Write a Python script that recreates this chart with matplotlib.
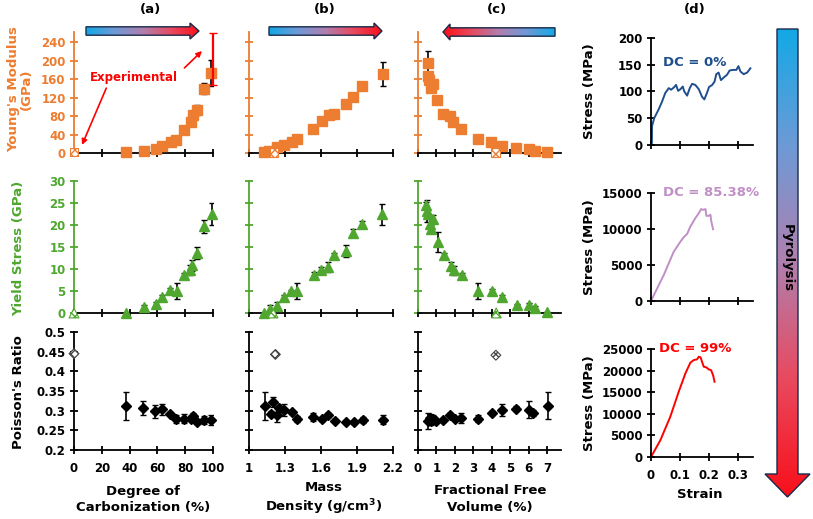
import matplotlib
matplotlib.use("Agg")
import matplotlib.pyplot as plt
import numpy as np
from matplotlib.colors import LinearSegmentedColormap
from matplotlib.patches import Polygon

plt.rcParams['font.family'] = ['DejaVu Sans']
plt.rcParams['font.weight'] = 'bold'
plt.rcParams['mathtext.default'] = 'bf'

ORANGE = '#ED7D31'
GREEN = '#4FA72F'

# ---- data: Young's modulus (GPa)
dc_E = [37.4, 50.4, 59.0, 63.5, 70.0, 73.4, 79.0, 84.0, 85.8, 88.3, 93.5, 98.6]
E_a = [2, 4, 8, 15, 24, 28, 50, 68, 82, 93, 139, 174]
E_a_err = [0, 0, 0, 0, 0, 0, 0, 3, 4, 11, 12, 28]

rho_E = [1.122, 1.165, 1.237, 1.293, 1.356, 1.399, 1.536, 1.607, 1.664, 1.707, 1.812, 1.869, 1.943, 2.114]
E_b = [3, 5, 12, 17, 24, 30, 51, 70, 82, 84, 107, 122, 145, 171]
E_b_err = [0, 0, 0, 0, 0, 0, 0, 0, 0, 0, 0, 0, 2, 26]

ffv_E = [0.52, 0.52, 0.60, 0.79, 0.68, 1.01, 1.37, 1.74, 1.92, 2.33, 3.26, 3.98, 4.54, 5.33, 6.04, 6.32, 7.0]
E_c = [194, 166, 158, 149, 140, 115, 84, 81, 68, 51, 30, 23, 16, 10, 9, 4, 1.5]
E_c_err = [26, 10, 0, 0, 6, 5, 0, 0, 0, 0, 0, 0, 0, 0, 0, 0, 0]

# experimental values (hatched markers, red bar)
exp_E_x = [0, 1.208, 4.21]
exp_E = [2, 1, 1]
exp_bar_dc = 99.8
exp_bar_E = 203
exp_bar_err = 56

# ---- data: yield stress (GPa)
dc_Y = [37.1, 50.7, 59.0, 63.3, 69.3, 73.8, 79.3, 83.3, 85.2, 88.3, 93.6, 99.0]
Y_a = [0, 1.4, 2.0, 3.7, 5.2, 5.0, 8.6, 9.8, 10.8, 13.6, 19.7, 22.6]
Y_a_err = [0, 0.5, 0.4, 0.3, 0.4, 1.8, 0.6, 1.1, 1.2, 1.3, 1.5, 2.5]

rho_Y = [1.124, 1.174, 1.23, 1.295, 1.353, 1.40, 1.54, 1.60, 1.66, 1.71, 1.81, 1.87, 1.94, 2.11]
Y_b = [0, 1.0, 1.7, 3.6, 4.9, 5.0, 8.7, 9.7, 10.5, 13.1, 14.1, 18.2, 20.2, 22.4]
Y_b_err = [0, 0.8, 0.8, 0.4, 0.4, 1.8, 0.6, 0.7, 1.2, 0.6, 1.4, 1.0, 0.8, 2.3]

ffv_Y = [0.45, 0.47, 0.55, 0.84, 0.65, 0.69, 1.06, 1.42, 1.78, 1.96, 2.37, 3.27, 4.0, 4.56, 5.35, 6.0, 6.33, 6.97]
Y_c = [24.5, 23.2, 22.5, 21.4, 20.3, 19.2, 16.1, 13.1, 10.7, 9.7, 8.6, 5.0, 5.0, 3.7, 1.8, 1.8, 1.1, 0.2]
Y_c_err = [0.8, 2.5, 1.0, 0.9, 1.0, 0.8, 2.2, 0.6, 0.9, 1.0, 0.5, 1.8, 0.5, 0.5, 0.3, 0.5, 0.4, 0]

exp_Y_x = [0, 1.20, 4.24]
exp_Y = [0, 0, 0]

# ---- data: Poisson's ratio
dc_P = [37.2, 49.8, 58.4, 63.0, 69.0, 73.4, 79.2, 84.0, 85.8, 88.3, 93.5, 98.8]
P_a = [0.312, 0.306, 0.298, 0.304, 0.292, 0.278, 0.280, 0.279, 0.287, 0.271, 0.276, 0.276]
P_a_err = [0.035, 0.018, 0.016, 0.014, 0.004, 0.010, 0.012, 0.006, 0.006, 0.004, 0.010, 0.012]

rho_P = [1.13, 1.18, 1.196, 1.23, 1.246, 1.293, 1.357, 1.398, 1.536, 1.606, 1.66, 1.716, 1.807, 1.874, 1.946, 2.117]
P_b = [0.3125, 0.292, 0.3225, 0.29, 0.307, 0.302, 0.296, 0.279, 0.283, 0.279, 0.289, 0.275, 0.27, 0.27, 0.277, 0.277]
P_b_err = [0.035, 0.006, 0.012, 0.02, 0.004, 0.015, 0.004, 0.008, 0.010, 0.004, 0.004, 0.004, 0.004, 0.004, 0.008, 0.012]

ffv_P = [0.54, 0.63, 0.72, 0.81, 0.99, 1.35, 1.76, 1.98, 2.34, 3.23, 4.0, 4.54, 5.3, 6.01, 6.23, 7.07]
P_c = [0.273, 0.282, 0.273, 0.28, 0.273, 0.276, 0.29, 0.28, 0.2815, 0.28, 0.294, 0.3025, 0.305, 0.3025, 0.294, 0.313]
P_c_err = [0.02, 0.01, 0.01, 0.008, 0.004, 0.004, 0.004, 0.004, 0.012, 0.010, 0.004, 0.015, 0.006, 0.022, 0.008, 0.034]

exp_P_x = [0, 1.22, 4.22]
exp_P = [0.445, 0.443, 0.441]

# ---- data: stress-strain curves (d)
strain0 = [0.003, 0.0034, 0.011, 0.026, 0.038, 0.049, 0.061, 0.069, 0.078, 0.086, 0.093, 0.101, 0.109,
           0.114, 0.124, 0.133, 0.141, 0.152, 0.164, 0.175, 0.183, 0.192, 0.199, 0.21, 0.218, 0.224,
           0.232, 0.24, 0.25, 0.261, 0.27, 0.282, 0.293, 0.3, 0.307, 0.318, 0.33, 0.341]
stress0 = [4, 35, 50, 66, 81, 97, 106, 103, 107, 112, 101, 104, 109, 100, 92, 106, 114, 112, 104, 90,
           85, 97, 108, 112, 118, 132, 135, 121, 126, 131, 139, 140, 140, 147, 137, 132, 135, 143]

strain85 = [0, 0.0435, 0.078, 0.101, 0.112, 0.124, 0.135, 0.152, 0.164, 0.172, 0.179, 0.187, 0.19,
            0.198, 0.204, 0.207, 0.213]
stress85 = [0, 3590, 6850, 8250, 8850, 9320, 10340, 11500, 12200, 12760, 12670, 12760, 11830,
            11830, 11970, 11040, 9970]

strain99 = [0, 0.032, 0.066, 0.095, 0.118, 0.135, 0.147, 0.158, 0.164, 0.17, 0.175, 0.181, 0.19,
            0.198, 0.206, 0.213, 0.218]
stress99 = [0, 3870, 9290, 15090, 19350, 21830, 22450, 22600, 23220, 23070, 22060, 20900, 20740,
            20280, 20120, 18960, 17420]

W, H = 813, 519
LAB = 9.5
TICK = 8.5
fig = plt.figure(figsize=(W / 100, H / 100), dpi=100)


def px_axes(x0, y0, x1, y1):
    return fig.add_axes([x0 / W, 1 - y1 / H, (x1 - x0) / W, (y1 - y0) / H])


def style(ax, ycol='black'):
    ax.spines['top'].set_visible(False)
    ax.spines['right'].set_visible(False)
    ax.spines['left'].set_color(ycol)
    ax.spines['left'].set_linewidth(1.3)
    ax.spines['bottom'].set_linewidth(1.3)
    ax.patch.set_alpha(0)
    ax.tick_params(axis='both', direction='inout', length=6, width=1.3, labelsize=TICK, pad=3)
    ax.tick_params(axis='x', pad=5.5)
    ax.tick_params(axis='y', colors=ycol)
    for lab in ax.get_xticklabels() + ax.get_yticklabels():
        lab.set_fontweight('bold')


cols = [(74, 213, (0, 100), [0, 20, 40, 60, 80, 100], ['0', '20', '40', '60', '80', '100']),
        (249, 393, (1, 2.2), [1, 1.3, 1.6, 1.9, 2.2], ['1', '1.3', '1.6', '1.9', '2.2']),
        (418, 561, (0, 7.75), [0, 1, 2, 3, 4, 5, 6, 7], ['0', '1', '2', '3', '4', '5', '6', '7'])]
rows = [(32, 153), (181, 313), (332, 450)]

E_sets = [(dc_E, E_a, E_a_err), (rho_E, E_b, E_b_err), (ffv_E, E_c, E_c_err)]
Y_sets = [(dc_Y, Y_a, Y_a_err), (rho_Y, Y_b, Y_b_err), (ffv_Y, Y_c, Y_c_err)]
P_sets = [(dc_P, P_a, P_a_err), (rho_P, P_b, P_b_err), (ffv_P, P_c, P_c_err)]

axes = {}
for j, (x0, x1, xl, xt, xtl) in enumerate(cols):
    for i, (y0, y1) in enumerate(rows):
        ax = px_axes(x0, y0, x1, y1)
        axes[(i, j)] = ax
        ax.set_xlim(*xl)
        ax.set_xticks(xt)
        if i == 2:
            ax.set_xticklabels(xtl)
        else:
            ax.set_xticklabels([])
        if i == 0:
            ax.set_ylim(0, 262)
            ax.set_yticks(range(0, 241, 40))
            x, y, e = E_sets[j]
            ax.errorbar(x, y, yerr=e, fmt='none', ecolor='black', elinewidth=1.2, capsize=2.5, zorder=2)
            ax.plot(x, y, 's', color=ORANGE, ms=6.5, zorder=3, clip_on=False)
            ax.scatter([exp_E_x[j]], [exp_E[j]], marker='s', s=40, facecolor='white',
                       edgecolor=ORANGE, hatch='xxxx', linewidth=0.8, zorder=4, clip_on=False)
            style(ax, ORANGE)
        elif i == 1:
            ax.set_ylim(0, 30)
            ax.set_yticks(range(0, 31, 5))
            x, y, e = Y_sets[j]
            ax.errorbar(x, y, yerr=e, fmt='none', ecolor='black', elinewidth=1.2, capsize=2.5, zorder=2)
            ax.plot(x, y, '^', color=GREEN, ms=7.5, zorder=3, clip_on=False)
            ax.scatter([exp_Y_x[j]], [exp_Y[j]], marker='^', s=50, facecolor='white',
                       edgecolor=GREEN, hatch='xxxx', linewidth=0.8, zorder=4, clip_on=False)
            style(ax, GREEN)
        else:
            ax.set_ylim(0.2, 0.5)
            ax.set_yticks([0.2, 0.25, 0.3, 0.35, 0.4, 0.45, 0.5])
            ax.set_yticklabels(['0.2', '0.25', '0.3', '0.35', '0.4', '0.45', '0.5'])
            x, y, e = P_sets[j]
            ax.errorbar(x, y, yerr=e, fmt='none', ecolor='black', elinewidth=1.2, capsize=2.5, zorder=2)
            ax.plot(x, y, 'D', color='black', ms=5, zorder=3, clip_on=False)
            ax.scatter([exp_P_x[j]], [exp_P[j]], marker='D', s=25, facecolor='white',
                       edgecolor='#444444', hatch='xxxx', linewidth=0.8, zorder=4, clip_on=False)
            style(ax, 'black')
        if j > 0:
            ax.set_yticklabels([])

# experimental bar and annotations on panel (a)
ax = axes[(0, 0)]
ax.errorbar([exp_bar_dc], [exp_bar_E], yerr=[exp_bar_err], fmt='none', ecolor='red',
            elinewidth=1.6, capsize=3, zorder=5, clip_on=False)
ax.text(43, 164, 'Experimental', color='red', fontsize=8.5, fontweight='bold', ha='center', va='center')
ax.annotate('', xy=(5, 12), xytext=(24, 146),
            arrowprops=dict(arrowstyle='-|>', color='red', lw=1.2, mutation_scale=8))
ax.annotate('', xy=(93.5, 225), xytext=(78, 180),
            arrowprops=dict(arrowstyle='-|>', color='red', lw=1.2, mutation_scale=8))

# ---- panel (d)
d_rows = [(37.7, 145, 200, [0, 50, 100, 150, 200], strain0, stress0, '#1F4E8C', 'DC = 0%', 165),
          (193, 301, 15000, [0, 5000, 10000, 15000], strain85, stress85, '#C08FC6', 'DC = 85.38%', 15000),
          (349, 457, 25000, [0, 5000, 10000, 15000, 20000, 25000], strain99, stress99, '#FF0000', 'DC = 99%', 25000)]
for k, (y0, y1, ymax, yt, sx, sy, col, lab, ty) in enumerate(d_rows):
    ax = px_axes(651, y0, 753, y1)
    ax.plot(sx, sy, color=col, lw=1.4)
    ax.set_xlim(0, 0.35)
    ax.set_ylim(0, ymax)
    ax.set_xticks([0, 0.1, 0.2, 0.3])
    ax.set_yticks(yt)
    if k == 2:
        ax.set_xticklabels(['0', '0.1', '0.2', '0.3'])
    else:
        ax.set_xticklabels([])
    style(ax, 'black')
    ax.text(0.04 if k != 2 else 0.028, ty, lab, color=col, fontsize=LAB, fontweight='bold',
            ha='left', va='top' if k == 0 else 'center')
    fig.text(589 / W, 1 - ((y0 + y1) / 2) / H, 'Stress (MPa)', rotation=90, ha='center', va='center',
             fontsize=LAB, fontweight='bold')

# ---- labels
fig.text(20 / W, 1 - 89 / H, "Young's Modulus\n(GPa)", rotation=90, ha='center', va='center',
         fontsize=LAB, fontweight='bold', color=ORANGE, linespacing=1.0)
fig.text(19 / W, 1 - 248 / H, "Yield Stress (GPa)", rotation=90, ha='center', va='center',
         fontsize=LAB, fontweight='bold', color=GREEN)
fig.text(19 / W, 1 - 392 / H, "Poisson's Ratio", rotation=90, ha='center', va='center',
         fontsize=LAB, fontweight='bold', color='black')

fig.text(143 / W, 1 - 499 / H, "Degree of\nCarbonization (%)", ha='center', va='center',
         fontsize=LAB, fontweight='bold', linespacing=1.3)
fig.text(324 / W, 1 - 499 / H, "Mass\nDensity (g/cm$^{3}$)", ha='center', va='center',
         fontsize=LAB, fontweight='bold', linespacing=1.3)
fig.text(490 / W, 1 - 499 / H, "Fractional Free\nVolume (%)", ha='center', va='center',
         fontsize=LAB, fontweight='bold', linespacing=1.3)
fig.text(700 / W, 1 - 494 / H, "Strain", ha='center', va='center', fontsize=LAB, fontweight='bold')

for t, xp in [('(a)', 150), ('(b)', 325), ('(c)', 497), ('(d)', 695)]:
    fig.text(xp / W, 1 - 10 / H, t, ha='center', va='center', fontsize=LAB, fontweight='bold')

# ---- gradient arrows (overlay)
ov = fig.add_axes([0, 0, 1, 1])
ov.set_xlim(0, W)
ov.set_ylim(H, 0)
ov.axis('off')
cmap = LinearSegmentedColormap.from_list('pyro', ['#12A9E6', '#6E9AD6', '#B07FAE', '#E9495E', '#F8101A'])


def grad_poly(pts, vertical=False, reverse=False):
    pts = np.array(pts)
    x0, x1 = pts[:, 0].min(), pts[:, 0].max()
    y0, y1 = pts[:, 1].min(), pts[:, 1].max()
    g = np.linspace(0, 1, 256)
    if reverse:
        g = g[::-1]
    arr = g.reshape(-1, 1) if vertical else g.reshape(1, -1)
    poly = Polygon(pts, closed=True, facecolor='none', edgecolor='#1A2A4A', lw=1.0, zorder=3)
    ov.add_patch(poly)
    im = ov.imshow(arr, cmap=cmap, extent=(x0, x1, y1, y0), origin='upper', aspect='auto', zorder=2)
    im.set_clip_path(poly)


def harrow(x0, xb, xt, yc, bh=4.2, hh=8):
    return [(x0, yc - bh), (xb, yc - bh), (xb, yc - hh), (xt, yc), (xb, yc + hh), (xb, yc + bh), (x0, yc + bh)]


grad_poly(harrow(86, 190, 199, 31))
grad_poly(harrow(269, 374, 382, 31))
grad_poly(harrow(555, 450, 443, 32), reverse=True)
grad_poly([(777, 29), (798, 29), (798, 474), (810, 474), (787.5, 497), (765, 474), (777, 474)], vertical=True)
ov.text(787.5, 258, 'Pyrolysis', rotation=-90, ha='center', va='center', fontsize=LAB,
        fontweight='bold', zorder=5)

fig.savefig('out.png', dpi=100)
